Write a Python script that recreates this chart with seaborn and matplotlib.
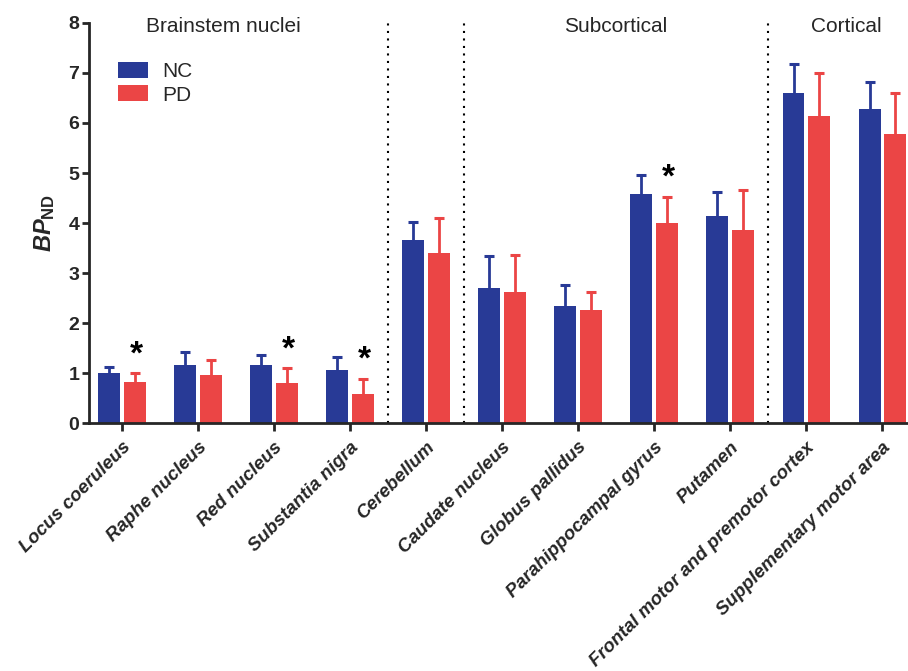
import matplotlib
matplotlib.use("Agg")
import matplotlib.pyplot as plt
import seaborn as sns
import pandas as pd
import numpy as np

regions = ["Locus coeruleus", "Raphe nucleus", "Red nucleus", "Substantia nigra",
           "Cerebellum", "Caudate nucleus", "Globus pallidus",
           "Parahippocampal gyrus", "Putamen",
           "Frontal motor and premotor cortex", "Supplementary motor area"]
groups = ["NC", "PD"]
nc_mean = [1.00, 1.16, 1.16, 1.07, 3.66, 2.71, 2.34, 4.58, 4.14, 6.59, 6.28]
nc_err = [0.13, 0.27, 0.20, 0.26, 0.37, 0.63, 0.42, 0.38, 0.48, 0.59, 0.54]
pd_mean = [0.82, 0.96, 0.81, 0.59, 3.40, 2.63, 2.27, 4.01, 3.87, 6.13, 5.78]
pd_err = [0.18, 0.30, 0.29, 0.30, 0.70, 0.74, 0.36, 0.52, 0.79, 0.86, 0.82]
significant = ["Locus coeruleus", "Red nucleus", "Substantia nigra", "Parahippocampal gyrus"]
section_names = ["Brainstem nuclei", "Subcortical", "Cortical"]
section_centers = [1.33, 6.5, 9.53]
section_bounds = [3.5, 4.5, 8.5]
y_ticks = [0, 1, 2, 3, 4, 5, 6, 7, 8]

colors = {"NC": "#283A96", "PD": "#EB4545"}

sns.set_style("ticks")
plt.rcParams["font.family"] = ["Liberation Sans", "DejaVu Sans"]
plt.rcParams["mathtext.fontset"] = "custom"
plt.rcParams["mathtext.it"] = "Liberation Sans:italic:bold"
plt.rcParams["mathtext.bf"] = "Liberation Sans:bold"
plt.rcParams["mathtext.rm"] = "Liberation Sans"

df = pd.DataFrame({
    "region": regions * 2,
    "group": ["NC"] * len(regions) + ["PD"] * len(regions),
    "value": nc_mean + pd_mean,
    "err": nc_err + pd_err,
})

fig = plt.figure(figsize=(9.08, 6.71), dpi=100)
ax = fig.add_axes([89 / 908, 0.369, (908 - 89) / 908, 0.597])

sns.barplot(data=df, x="region", y="value", hue="group", order=regions,
            hue_order=groups, palette=colors, errorbar=None, width=0.665,
            gap=0.13, linewidth=0, saturation=1, ax=ax, zorder=2)

# error bars (upper only), from bar patches
for container, grp in zip(ax.containers, groups):
    sub = df[df["group"] == grp].set_index("region").loc[regions]
    xs = [p.get_x() + p.get_width() / 2 for p in container.patches]
    eb = ax.errorbar(xs, sub["value"], yerr=[np.zeros(len(xs)), sub["err"]],
                     fmt="none", ecolor=colors[grp], elinewidth=2.0,
                     capsize=3.6, capthick=2.2, zorder=1)
    caplines = eb.lines[1]
    if len(caplines) == 2:
        caplines[0].set_visible(False)

# significance stars over PD bars
pd_container = ax.containers[1]
pd_sub = df[df["group"] == "PD"].set_index("region").loc[regions]
for i, r in enumerate(regions):
    if r in significant:
        p = pd_container.patches[i]
        xc = p.get_x() + p.get_width() / 2
        top = pd_sub.loc[r, "value"] + pd_sub.loc[r, "err"]
        ax.text(xc + 0.02, top + 0.2, "*", ha="center", va="baseline",
                fontsize=24, fontweight="bold", color="black")

# section separators and titles
for b in section_bounds:
    ax.plot([b, b], [0, 8], color="black", lw=1.5, linestyle=(0, (1, 2.6)),
            zorder=0)
for name, c in zip(section_names, section_centers):
    ax.text(c, 7.81, name, ha="center", va="baseline", fontsize=15)

ax.set_xlim(-0.434, 10.34)
ax.set_ylim(0, 8)
ax.set_yticks(y_ticks)
ax.set_yticklabels([str(t) for t in y_ticks], fontsize=14, fontweight="bold")
ax.set_xlabel("")
ax.set_ylabel(r"$\mathit{BP}_{\mathbf{ND}}$", fontsize=17, labelpad=8)
ax.set_xticks(range(len(regions)))
ax.set_xticklabels(regions, rotation=45, ha="right", rotation_mode="anchor",
                   fontsize=13.5, fontweight="bold", fontstyle="italic")

sns.despine(ax=ax, top=True, right=True)
for s in ["left", "bottom"]:
    ax.spines[s].set_linewidth(2)
    ax.spines[s].set_zorder(3)
ax.tick_params(axis="y", length=5, width=2, pad=2)
ax.tick_params(axis="x", length=6, width=2, pad=5)

handles, labels = ax.get_legend_handles_labels()
ax.legend(handles, labels, loc="upper left", bbox_to_anchor=(0.035, 0.902),
          frameon=False, fontsize=15, handlelength=1.45, handleheight=0.8,
          handletextpad=0.7, labelspacing=0.2, borderpad=0, borderaxespad=0)

fig.savefig("out.png", dpi=100)
